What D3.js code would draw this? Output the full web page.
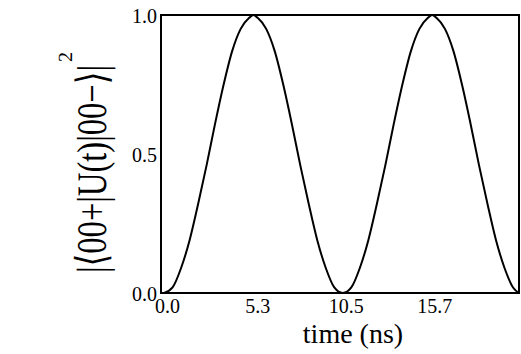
<!DOCTYPE html>
<html>
<head>
<meta charset="utf-8">
<script src="https://cdn.jsdelivr.net/npm/d3@7"></script>
<style>
  body { margin: 0; background: #fff; }
  svg { display: block; }
  text { font-family: "Liberation Serif", "Times New Roman", serif; fill: #000; }
</style>
</head>
<body>
<svg width="521" height="354"></svg>
<script>
// time in ns
var times = [0, 0.5, 1, 1.5, 2, 2.5, 3, 3.5, 4, 4.5, 5, 5.25, 5.5, 6, 6.5, 7, 7.5, 8, 8.5, 9, 9.5, 10, 10.5,
  11, 11.5, 12, 12.5, 13, 13.5, 14, 14.5, 15, 15.5, 15.75, 16, 16.5, 17, 17.5, 18, 18.5, 19, 19.5, 20, 20.5, 20.85];
// |<00+|U(t)|00->|^2
var overlap = [0, 0.02, 0.09, 0.19, 0.32, 0.46, 0.61, 0.75, 0.87, 0.95, 0.99, 1.0, 0.99, 0.95, 0.87, 0.75, 0.61, 0.46, 0.32, 0.19, 0.09, 0.02, 0,
  0.02, 0.09, 0.19, 0.32, 0.46, 0.61, 0.75, 0.87, 0.95, 0.99, 1.0, 0.99, 0.95, 0.87, 0.75, 0.61, 0.46, 0.32, 0.19, 0.09, 0.02, 0.0];
var xTicks = [0, 5.3, 10.5, 15.7];
var xTickLabels = ["0.0", "5.3", "10.5", "15.7"];
var yTicks = [0, 0.5, 1];
var yTickLabels = ["0.0", "0.5", "1.0"];
// y title pieces: [text, font]
var yTitleParts = [["|", "s"], ["\u27E8", "b"], ["00+|U(t)|00\u2212", "s"], ["\u27E9", "b"], ["|", "s"]];

var svg = d3.select("svg");
var pl = 161, pr = 519, pt = 15, pb = 293;

var x = d3.scaleLinear().domain([-0.18, 20.85]).range([pl, pr]);
var y = d3.scaleLinear().domain([0, 1]).range([pb, pt]);

var pts = times.map(function(t, i){ return [t, overlap[i]]; });

var line = d3.line()
  .x(function(d){ return x(d[0]); })
  .y(function(d){ return y(d[1]); })
  .curve(d3.curveMonotoneX);

svg.append("path")
  .datum(pts)
  .attr("d", line)
  .attr("fill", "none")
  .attr("stroke", "#000")
  .attr("stroke-width", 2);

// frame
svg.append("rect")
  .attr("x", pl).attr("y", pt)
  .attr("width", pr - pl).attr("height", pb - pt)
  .attr("fill", "none")
  .attr("stroke", "#000")
  .attr("stroke-width", 2);

var xAxis = svg.append("g")
  .attr("transform", "translate(0," + pb + ")")
  .call(d3.axisBottom(x).tickValues(xTicks).tickSize(0).tickPadding(5)
    .tickFormat(function(d, i){ return xTickLabels[i]; }));
xAxis.select(".domain").remove();
xAxis.selectAll("text")
  .attr("font-size", 20)
  .attr("font-family", "Liberation Serif, serif")
  .attr("fill", "#000")
  .attr("dx", 3)
  .attr("dy", "0.75em");

var yAxis = svg.append("g")
  .attr("transform", "translate(" + pl + ",0)")
  .call(d3.axisLeft(y).tickValues(yTicks).tickSize(0).tickPadding(4)
    .tickFormat(function(d, i){ return yTickLabels[i]; }));
yAxis.select(".domain").remove();
yAxis.selectAll("text")
  .attr("font-size", 20)
  .attr("font-family", "Liberation Serif, serif")
  .attr("fill", "#000")
  .attr("dy", "0.35em");

// axis titles
svg.append("text")
  .attr("x", 353).attr("y", 343)
  .attr("text-anchor", "middle")
  .attr("font-size", 28)
  .text("time (ns)");

// slightly off -90 so the glyphs keep their serifs
var ytg = svg.append("g").attr("transform", "translate(106,169) rotate(-89.9)");
var yt = ytg.append("text")
  .attr("text-anchor", "middle")
  .style("font-size", "42px");
yt.selectAll("tspan")
  .data(yTitleParts)
  .enter().append("tspan")
  .style("font-family", function(d){ return d[1] == "b" ? "'DejaVu Serif', serif" : "'Liberation Serif', serif"; })
  .text(function(d){ return d[0]; });
// squeeze along the text direction to the measured length
var w = yt.node().getComputedTextLength();
yt.attr("transform", "scale(" + (208 / w) + ",1)");

svg.append("text")
  .attr("transform", "translate(72,57) rotate(-89.9)")
  .attr("text-anchor", "middle")
  .attr("font-size", 20)
  .text("2");
</script>
</body>
</html>
